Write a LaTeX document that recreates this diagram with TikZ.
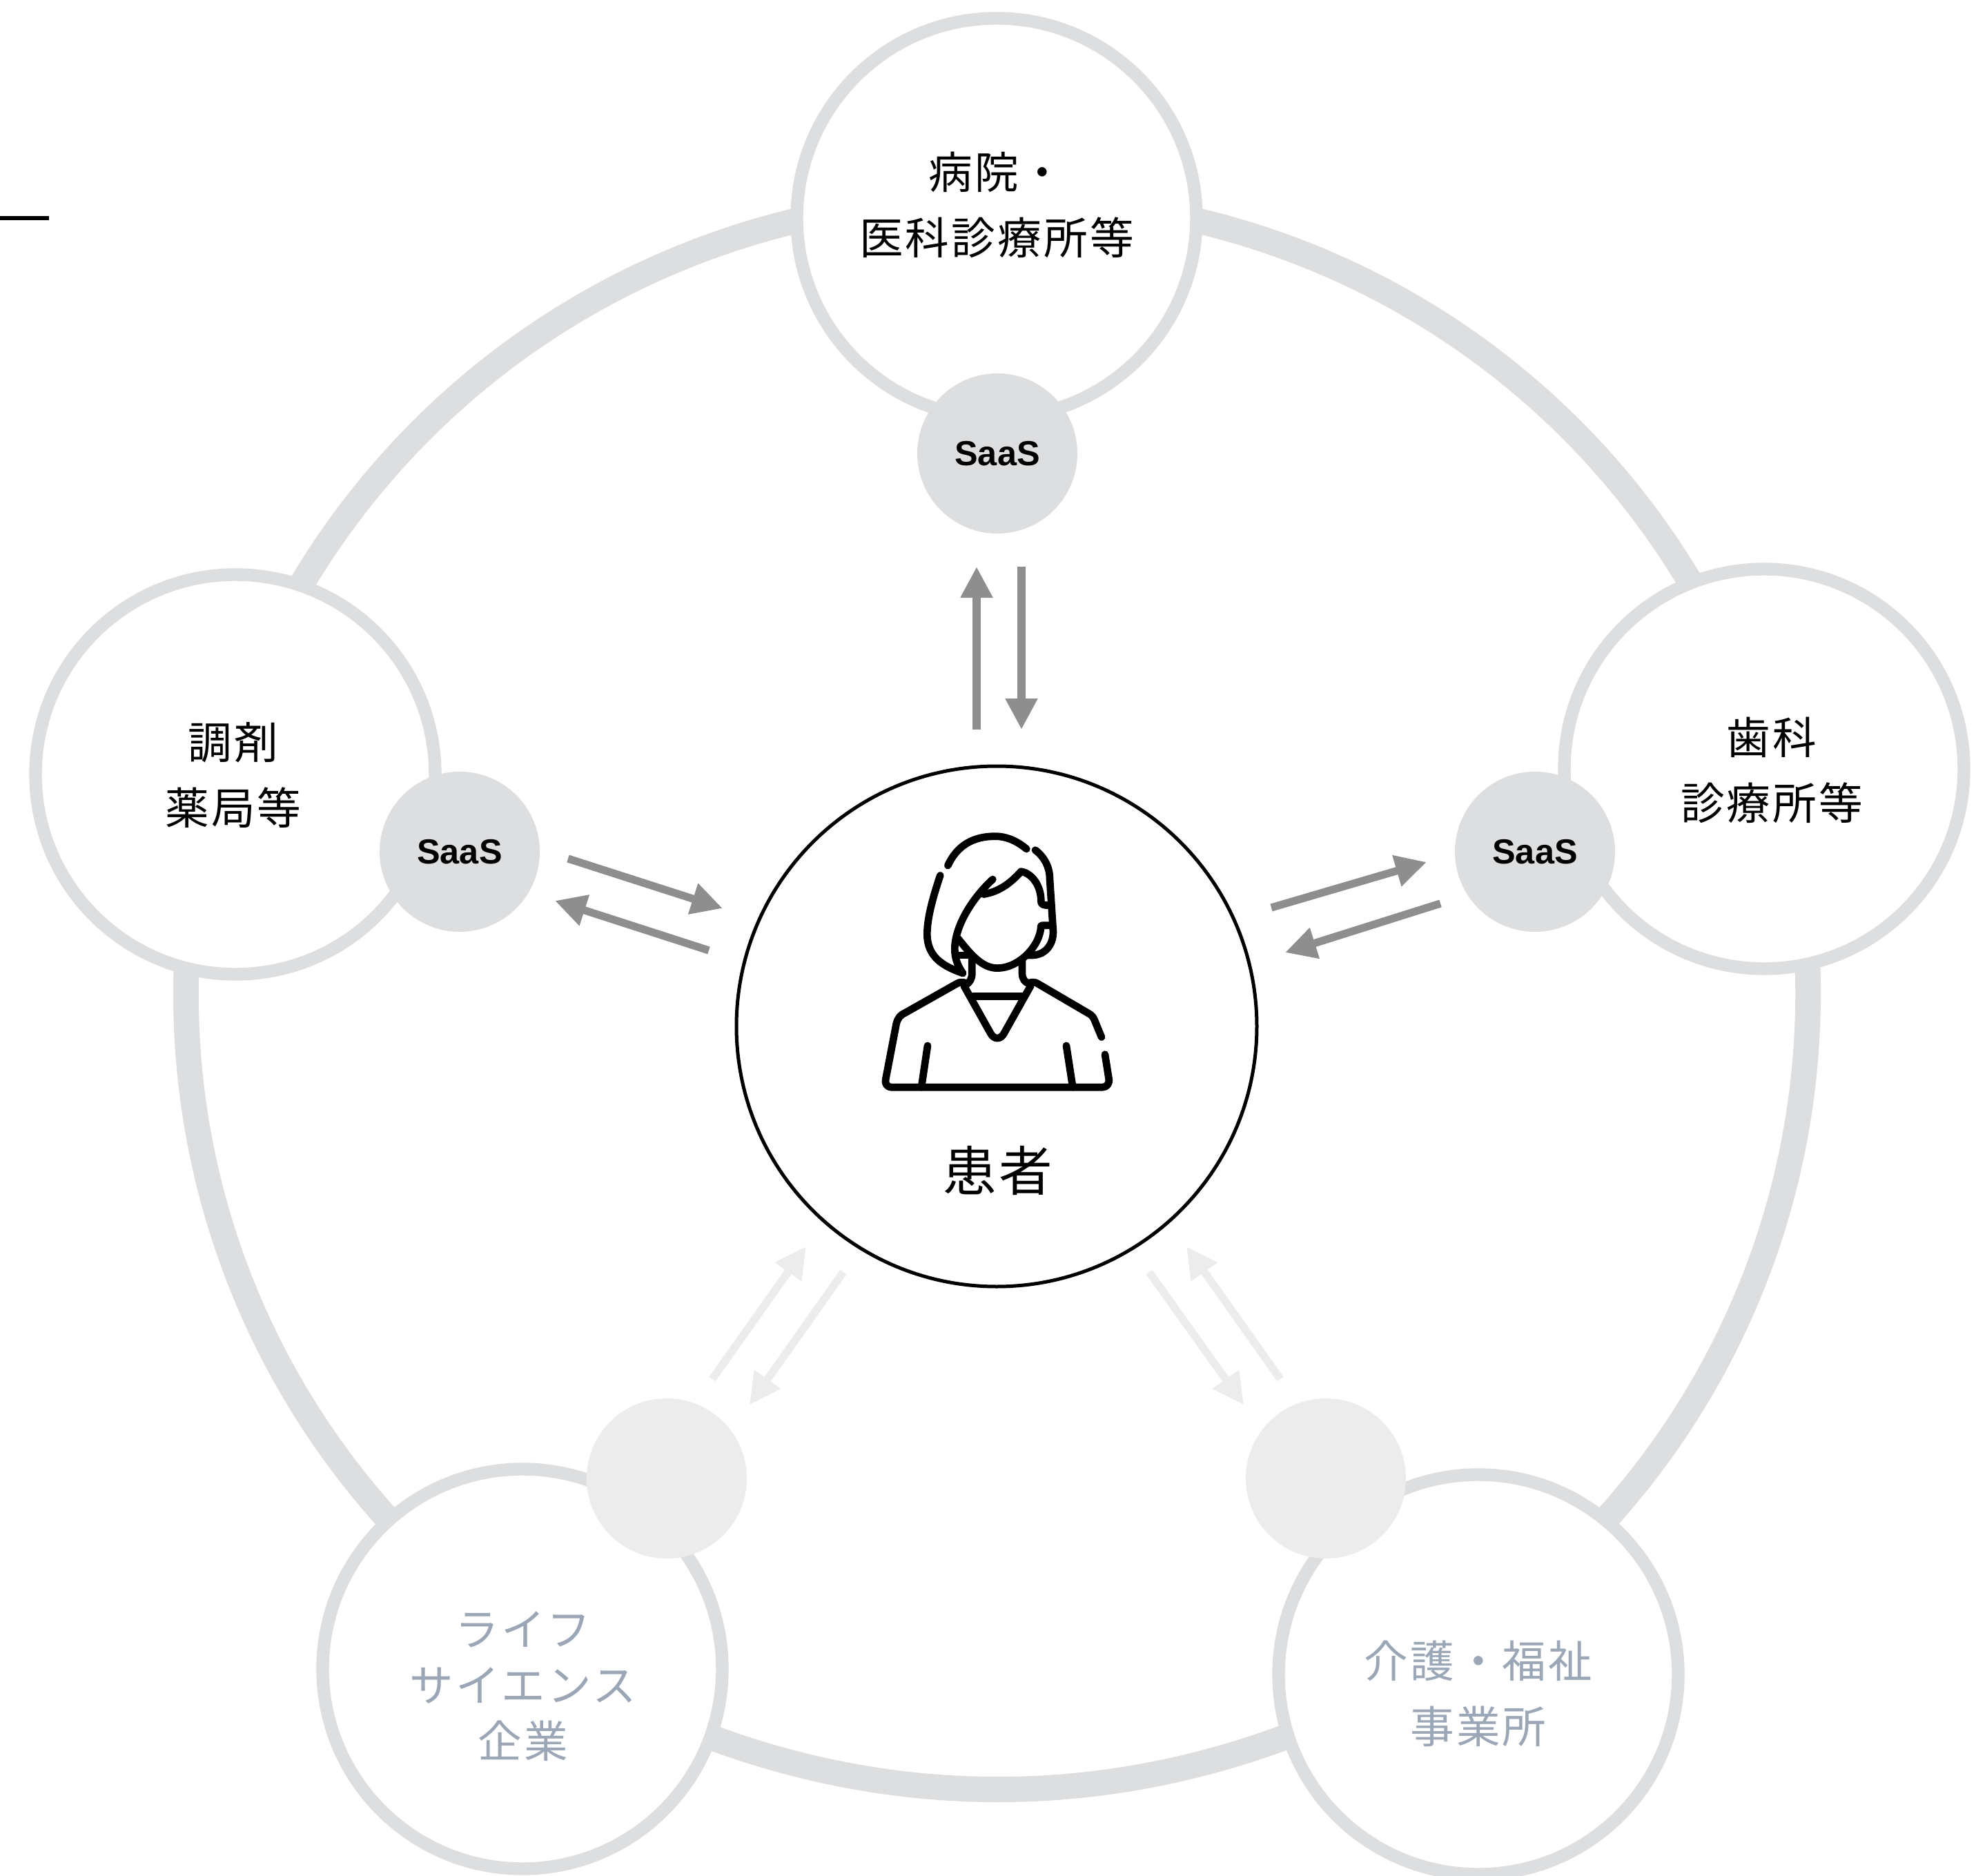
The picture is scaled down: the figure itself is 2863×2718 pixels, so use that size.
\documentclass[tikz,border=0pt]{standalone}
\usepackage{fontspec}
\usetikzlibrary{arrows.meta}
\setmainfont[LetterSpace=5]{Noto Sans CJK JP}
\newfontfamily\saasfont{Liberation Sans}
\begin{document}
\begin{tikzpicture}[x=0.25pt,y=-0.25pt,
  ring/.style={draw=ringColor,line width=9.2pt,line cap=butt},
  place/.style={circle,draw=ringColor,fill=white,line width=4.6pt,inner sep=0pt,minimum size=144.75pt},
  hub/.style={circle,fill=ringColor,inner sep=0pt,minimum size=58pt},
  hubfaded/.style={circle,fill=fadeColor,inner sep=0pt,minimum size=58pt},
  flow/.style={draw=flowColor,line width=2.8pt,-{Triangle[length=11.25pt,width=11pt]}},
  flowfaded/.style={draw=fadeColor,line width=2.8pt,-{Triangle[length=11.25pt,width=11pt]}},
  lbl/.style={align=center,inner sep=0pt,font=\fontsize{15.9}{23.6}\selectfont},
  lblfaded/.style={lbl,text=fadeText},
  saas/.style={font=\saasfont\bfseries\fontsize{12.6}{14}\selectfont}]
\definecolor{ringColor}{RGB}{221,222,224}
\definecolor{fadeColor}{RGB}{236,236,236}
\definecolor{flowColor}{RGB}{142,142,142}
\definecolor{fadeText}{RGB}{155,167,183}
\path[use as bounding box,fill=white] (0,0) rectangle (2863,2718);

% ends of the ring parts
\coordinate (topL) at (1157,319);
\coordinate (pharmTop) at (436,848);
\coordinate (topR) at (1732,319);
\coordinate (dentTop) at (2450,845);
\coordinate (pharmBot) at (270,1405);
\coordinate (lifeTop) at (564,2203);
\coordinate (dentBot) at (2619,1400);
\coordinate (careTop) at (2326,2202);
\coordinate (lifeBot) at (1030,2517);
\coordinate (careBot) at (1867,2515);

\draw[ring] (topL) to[bend right=23,looseness=.89] (pharmTop);
\draw[ring] (topR) to[bend left=23,looseness=.89] (dentTop);
\draw[ring] (pharmBot) to[bend right=22,looseness=.89] (lifeTop);
\draw[ring] (dentBot) to[bend left=22,looseness=.89] (careTop);
\draw[ring] (lifeBot) to[bend right=20.5,looseness=.89] (careBot);

% outer circles
\node[place] (hospital) at (1444,316) {};
\node[place] (pharmacy) at (341,1122) {};
\node[place] (dental) at (2556,1114) {};
\node[place] (lifesci) at (757,2418) {};
\node[place] (care) at (2142,2426) {};

\node[hub,saas] (hospitalSaas) at (1445,657) {SaaS};
\node[hub,saas] (pharmacySaas) at (666,1234) {SaaS};
\node[hub,saas] (dentalSaas) at (2224,1234) {SaaS};
\node[hubfaded] (lifeHub) at (966,2142) {};
\node[hubfaded] (careHub) at (1921,2142) {};

\node[circle,draw=black,fill=white,line width=1.25pt,inner sep=0pt,minimum size=188.5pt] (patient) at (1444,1487) {};

% labels
\node[lbl] (hospitalText) at (1444,297) {病院・\\医科診療所等};
\node[lbl] (pharmacyText) at (338,1123) {調剤\\薬局等};
\node[lbl] (dentalText) at (2567,1116) {歯科\\診療所等};
\node[lblfaded,font=\fontsize{15.9}{20.25}\selectfont] (lifeText) at (758,2443) {ライフ\\サイエンス\\企業};
\node[lblfaded] (careText) at (2142,2454) {介護・福祉\\事業所};
\node[inner sep=0pt,font=\fontsize{19.4}{22}\selectfont] (patientText) at (1446,1696) {患者};

% arrows
\coordinate (a1s) at (1415,1057);
\coordinate (a1e) at (1415,821);
\coordinate (a2s) at (1480,821);
\coordinate (a2e) at (1480,1057);
\coordinate (a3s) at (1842,1315);
\coordinate (a3e) at (2067,1249);
\coordinate (a4s) at (2087,1309);
\coordinate (a4e) at (1862,1380);
\coordinate (a5s) at (823,1244);
\coordinate (a5e) at (1047,1316);
\coordinate (a6s) at (1027,1377);
\coordinate (a6e) at (804,1305);
\coordinate (a7s) at (1032,1998);
\coordinate (a7e) at (1168,1806);
\coordinate (a8s) at (1222,1843);
\coordinate (a8e) at (1086,2035);
\coordinate (a9s) at (1665,1843);
\coordinate (a9e) at (1802,2035);
\coordinate (a10s) at (1855,1998);
\coordinate (a10e) at (1719,1806);
\foreach \n in {1,...,6} \draw[flow] (a\n s) -- (a\n e);
\foreach \n in {7,...,10} \draw[flowfaded] (a\n s) -- (a\n e);

% margin tick
\draw[line width=1.5pt] (0,316) -- (71,316);

% patient figure
\begin{scope}[shift={(1220,1130)},x=0.08333pt,y=-0.08333pt,line width=2.67pt,line cap=round,line join=round]
\draw (1143,1193) -- (1160,1300) .. controls (1163,1322) and (1150,1336) .. (1130,1336) -- (215,1336)
  .. controls (197,1336) and (184,1320) .. (190,1300) -- (236,1060) .. controls (242,1035) and (255,1020) .. (275,1012)
  -- (500,885) .. controls (512,878) and (525,878) .. (535,882);
\draw (1128,1118) -- (1100,1050) .. controls (1093,1030) and (1085,1022) .. (1072,1015)
  -- (850,885) .. controls (838,878) and (828,878) .. (815,882);
\draw (530,895) -- (645,1100) .. controls (660,1130) and (690,1130) .. (705,1100) -- (820,895);
\draw (570,940) -- (785,940);
\draw (565,770) -- (565,840) .. controls (565,865) and (555,880) .. (540,890);
\draw (783,785) -- (783,840) .. controls (783,865) and (795,880) .. (812,885);
\draw (372,1155) -- (345,1336);
\draw (975,1155) -- (1003,1336);
% face
\draw (505,690) .. controls (560,760) and (610,818) .. (675,818) .. controls (770,818) and (862,720) .. (865,635)
  .. controls (865,632) and (870,632) .. (900,632);
\draw (900,545) .. controls (870,545) and (865,540) .. (865,525) .. controls (865,460) and (825,405) .. (778,398)
  .. controls (740,440) and (690,485) .. (615,497);
% hair
\draw (655,432) .. controls (560,520) and (490,640) .. (490,735) .. controls (490,780) and (505,810) .. (525,840);
\draw (427,415) .. controls (395,510) and (370,600) .. (370,670) .. controls (370,770) and (440,810) .. (525,840);
\draw (460,372) .. controls (500,285) and (570,245) .. (665,245) .. controls (715,245) and (760,265) .. (802,300);
\draw (840,305) .. controls (880,335) and (903,380) .. (903,430) -- (918,660)
  .. controls (918,720) and (880,762) .. (825,762) -- (808,762);
\draw (510,762) -- (550,762);
\end{scope}
\end{tikzpicture}
\end{document}
